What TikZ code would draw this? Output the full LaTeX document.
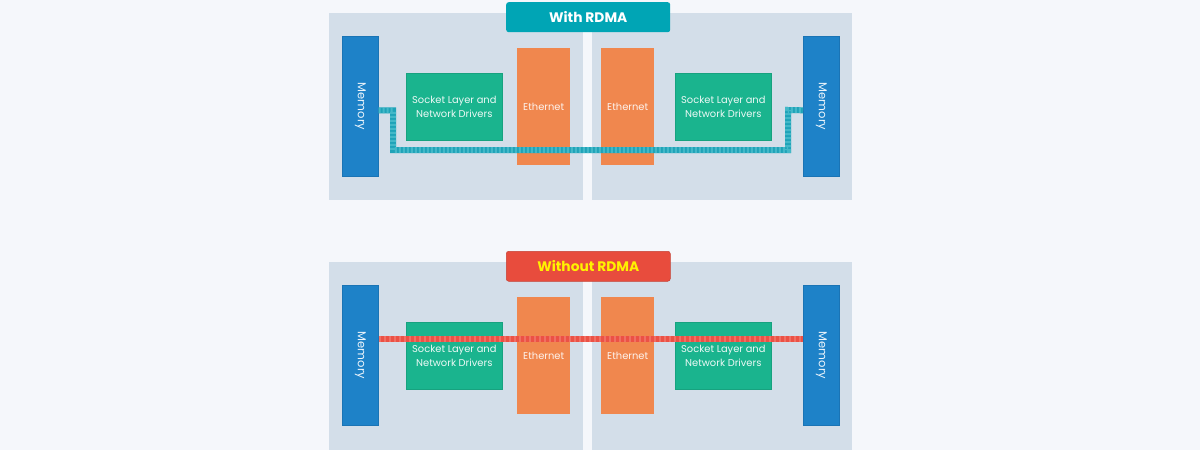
\documentclass[tikz,border=0pt]{standalone}
\usepackage{fontspec}
\setmainfont{Poppins}
\definecolor{bgc}{HTML}{F5F7FB}
\definecolor{panelc}{HTML}{D3DEE9}
\definecolor{memc}{HTML}{1E82C8}
\definecolor{memb}{HTML}{1A74B5}
\definecolor{sockc}{HTML}{1AB48E}
\definecolor{sockb}{HTML}{17A27F}
\definecolor{ethc}{HTML}{F0874E}
\definecolor{tealc}{HTML}{00A5B5}
\definecolor{tealline}{HTML}{1FA3B8}
\definecolor{teallight}{HTML}{5CC6D4}
\definecolor{redc}{HTML}{E84C3D}
\definecolor{redline}{HTML}{EC5145}
\definecolor{redlight}{HTML}{F4857A}
\definecolor{yel}{HTML}{FFF200}
\tikzset{
  panel/.style={fill=panelc, draw=none, anchor=north west, inner sep=0pt},
  membox/.style={fill=memc, draw=memb, line width=0.6pt, anchor=north west, inner sep=0pt, minimum width=36pt, minimum height=140pt},
  sockbox/.style={fill=sockc, draw=sockb, line width=0.6pt, anchor=north west, inner sep=0pt, minimum width=96pt, minimum height=67pt, text=white!92!sockc, font=\fontsize{9.9}{13.5}\selectfont, align=center},
  ethbox/.style={fill=ethc, draw=none, anchor=north west, inner sep=0pt, minimum width=53pt, minimum height=117pt, text=white!90!ethc, font=\fontsize{9.9}{12}\selectfont},
  memlabel/.style={rotate=-90, text=white!92!memc, font=\fontsize{11.5}{12}\selectfont},
  titlebox/.style={rounded corners=2.5pt, anchor=north west, inner sep=0pt, minimum width=164pt, minimum height=30pt, font=\bfseries\fontsize{13.8}{15}\selectfont},
  tealpath/.style={line width=6pt, draw=tealline},
  tealdash/.style={line width=6pt, draw=teallight, dash pattern=on 2pt off 2pt, opacity=0.6},
  redpath/.style={line width=6pt, draw=redline},
  reddash/.style={line width=6pt, draw=redlight, dash pattern=on 2.5pt off 2.5pt, opacity=0.6}
}
\begin{document}
\begin{tikzpicture}[x=1pt,y=-1pt]
\fill[bgc] (0,0) rectangle (1200,450);
\useasboundingbox (0,0) rectangle (1200,450);

% ---------- Top: With RDMA ----------
\node[panel, minimum width=254pt, minimum height=187pt] (pTL) at (329,13) {};
\node[panel, minimum width=260pt, minimum height=187pt] (pTR) at (592,13) {};
\node[membox] (mTL) at (342,36) {};
\node[memlabel] (mTLt) at (mTL.center) {Memory};
\node[membox] (mTR) at (803,36) {};
\node[memlabel] (mTRt) at (mTR.center) {Memory};
\node[sockbox] (sTL) at (406,73) {Socket Layer and\\Network Drivers};
\node[sockbox] (sTR) at (675,73) {Socket Layer and\\Network Drivers};
\node[ethbox] (eTL) at (517,48) {Ethernet};
\node[ethbox] (eTR) at (601,48) {Ethernet};
\node[titlebox, fill=tealc, text=white] (tT) at (506,2) {With RDMA};

\coordinate (aT1) at ([yshift=-4pt]mTL.east);
\coordinate (aT2) at ([yshift=-4pt]mTR.west);
\draw[tealpath] (aT1) -| (393,150) -| (788,110) -- (aT2);
\draw[tealdash] (aT1) -| (393,150) -| (788,110) -- (aT2);

% ---------- Bottom: Without RDMA ----------
\node[panel, minimum width=254pt, minimum height=190pt] (pBL) at (329,262) {};
\node[panel, minimum width=260pt, minimum height=190pt] (pBR) at (592,262) {};
\node[membox] (mBL) at (342,285) {};
\node[memlabel] (mBLt) at (mBL.center) {Memory};
\node[membox] (mBR) at (803,285) {};
\node[memlabel] (mBRt) at (mBR.center) {Memory};
\node[sockbox] (sBL) at (406,322) {Socket Layer and\\Network Drivers};
\node[sockbox] (sBR) at (675,322) {Socket Layer and\\Network Drivers};
\node[ethbox] (eBL) at (517,297) {Ethernet};
\node[ethbox] (eBR) at (601,297) {Ethernet};
\node[titlebox, fill=redc, draw=redc!85!black, line width=0.5pt, text=yel] (tB) at (506,251) {Without RDMA};

\coordinate (aB1) at ([yshift=16pt]mBL.east);
\coordinate (aB2) at ([yshift=16pt]mBR.west);
\draw[redpath] (aB1) -- (aB2);
\draw[reddash] (aB1) -- (aB2);
\end{tikzpicture}
\end{document}
